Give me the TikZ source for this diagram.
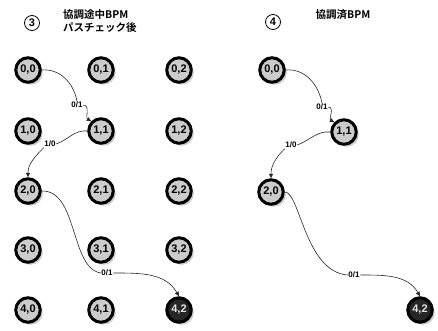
\documentclass[tikz,border=0pt]{standalone}
\usepackage{fontspec}
\setmainfont{Liberation Sans}
\newfontfamily\cjk{Noto Sans CJK JP}[BoldFont={Noto Sans CJK JP Bold}]
\usetikzlibrary{arrows.meta,shadows}
\begin{document}
\begin{tikzpicture}[x=1pt,y=-1pt,
  st/.style={circle,draw=black,line width=3pt,fill=gray!40,minimum size=24.5pt,inner sep=0pt,
    font=\fontsize{11}{11}\selectfont\bfseries,
    drop shadow={shadow xshift=2.5pt,shadow yshift=-2.5pt,fill=gray!55,opacity=0.75}},
  fin/.style={st,fill=black!85,text=white!80!gray},
  lab/.style={inner sep=0.5pt,font=\fontsize{8}{8}\selectfont\bfseries,fill=white},
  con/.style={line width=0.6pt,draw=black!85},
  arr/.style={con,-{Triangle[length=4.5pt,width=4pt]}},
  num/.style={circle,draw,line width=0.8pt,inner sep=0.5pt,minimum size=15pt,font=\fontsize{11}{11}\selectfont\bfseries},
  ttl/.style={font=\cjk\fontsize{10.5}{13}\selectfont\bfseries,align=left,inner sep=0pt}]
\useasboundingbox (0,0) rectangle (438,331);
% titles
\node[num] (t3) at (32,23) {3};
\node[ttl,anchor=west] (tt3) at (63,21) {協調途中BPM\\パスチェック後};
\node[num] (t4) at (273,22) {4};
\node[ttl,anchor=center] (tt4) at (343,15) {協調済BPM};
% left grid
\foreach \r/\y in {0/70,1/131,2/191,3/250,4/310}{
  \foreach \c/\x in {0/28,1/101,2/179}{
    \ifnum\r\c=42\relax
      \node[fin] (L\r\c) at (\x,\y) {\r,\c};
    \else
      \node[st] (L\r\c) at (\x,\y) {\r,\c};
    \fi
  }
}
% right nodes
\node[st] (R00) at (272,70) {0,0};
\node[st] (R11) at (344,132) {1,1};
\node[st] (R20) at (271,192) {2,0};
\node[fin] (R42) at (420,310) {4,2};
% left connectors
\node[lab] (la1) at (77,105) {0/1};
\draw[con] (L00.east) to[out=5,in=100] (la1.north);
\draw[arr] (la1.east) to[out=0,in=150] (L11.north west);
\node[lab] (la2) at (50,144) {1/0};
\draw[con] (L11.west) to[out=175,in=20] (la2.east);
\draw[arr] (la2.south west) to[out=225,in=90] (L20.north);
\node[lab] (la3) at (107,273) {0/1};
\draw[con] (L20.east) .. controls (78,190) and (70,268) .. (la3.west);
\draw[arr] (la3.east) to[out=0,in=120] (L42.north);
% right connectors
\node[lab] (ra1) at (322,107) {0/1};
\draw[con] (R00.east) to[out=5,in=100] (ra1.north);
\draw[arr] (ra1.east) to[out=0,in=150] (R11.north west);
\node[lab] (ra2) at (291,145) {1/0};
\draw[con] (R11.west) to[out=175,in=20] (ra2.east);
\draw[arr] (ra2.south west) to[out=225,in=90] (R20.north);
\node[lab] (ra3) at (354,275) {0/1};
\draw[con] (R20.east) .. controls (300,192) and (305,272) .. (ra3.west);
\draw[arr] (ra3.east) to[out=0,in=120] (R42.north);
\end{tikzpicture}
\end{document}
